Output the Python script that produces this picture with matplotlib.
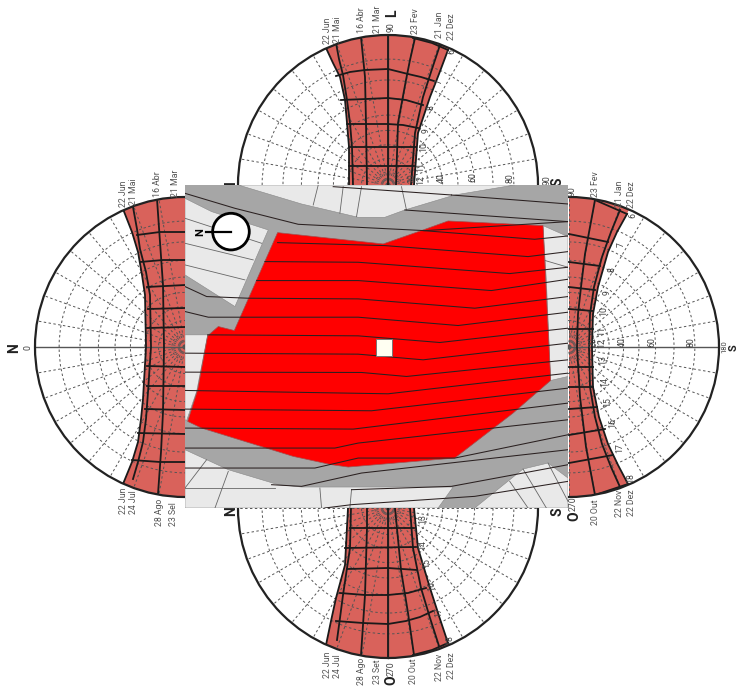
import numpy as np
import matplotlib
matplotlib.use('Agg')
import matplotlib.pyplot as plt
from matplotlib.patches import Circle, Polygon, Rectangle

plt.rcParams['font.family'] = ['Roboto', 'DejaVu Sans']

# sun chart curves, (lateral offset, height above the base)
top_dates = [
  [(-62, 137), (-55, 122), (-48, 108), (-43, 85), (-41, 62), (-39, 38), (-39, 0)],
  [(-52, 142), (-49, 126), (-45, 110), (-41, 85), (-38, 62), (-36, 38), (-35, 0)],
  [(-27, 148), (-25, 128), (-23, 108), (-22, 62), (-21, 0)],
  [(0, 150), (0, 0)],
  [(27, 147), (22, 125), (18, 105), (10, 62), (8, 0)],
  [(52, 140), (43, 113), (35, 88), (27, 52), (23, 0)],
  [(60, 135), (51, 111), (42, 88), (30, 52), (26, 0)],
]
top_hours = [
  [(-39, 19), (26, 19)],
  [(-39, 38), (28, 38)],
  [(-41, 61), (-20, 61), (0, 61), (15, 60), (30, 57)],
  [(-47, 85), (-22, 86), (0, 87), (18, 85), (35, 80)],
  [(-52, 109), (-38, 113), (-23, 115), (0, 116), (20, 111), (33, 108), (46, 104)],
  [(25, 147), (44, 142), (60, 135)],
]
bottom_dates = [
  [(-62, 137), (-57, 113), (-52, 90), (-43, 57), (-40, 0)],
  [(-51, 132), (-48, 110), (-45, 87), (-38, 40), (-37, 0)],
  [(-27, 147), (-25, 117), (-23, 87), (-21, 20), (-21, 0)],
  [(0, 150), (0, 0)],
  [(26, 147), (20, 105), (13, 62), (7, 0)],
  [(51, 138), (42, 110), (33, 80), (25, 40), (22, 0)],
  [(60, 135), (51, 108), (42, 80), (30, 40), (26, 0)],
]
bottom_hours = [
  [(-38, 20), (26, 20)],
  [(-43, 40), (28, 39)],
  [(-41, 61), (0, 60), (29, 62)],
  [(-48, 85), (-23, 87), (0, 87), (20, 85), (38, 80)],
  [(-52, 113), (-25, 115), (0, 116), (18, 113), (32, 109), (45, 103)],
  [(25, 147), (44, 142), (60, 135)],
]
left_dates = [
  [(-138, 62), (-115, 53), (-95, 47), (-72, 43), (-52, 40), (0, 39), (52, 42), (72, 44), (95, 47), (115, 53), (137, 62)],
  [(-140, 52), (-118, 48), (-98, 45), (-75, 39), (-52, 35), (0, 34), (45, 37), (72, 39), (95, 42), (115, 47), (132, 52)],
  [(-148, 28), (-105, 25), (-62, 22), (0, 21), (65, 22), (105, 24), (147, 27)],
]
left_hours = [
  [(-112, 48), (-115, 25), (-115, 0)],
  [(-85, 45), (-87, 22), (-87, 0)],
  [(-60, 38), (-62, 0)],
  [(-38, 37), (-39, 0)],
  [(-19, 38), (-20, 0)],
  [(19, 38), (20, 0)],
  [(39, 38), (39, 0)],
  [(62, 40), (63, 0)],
  [(86, 47), (87, 0)],
  [(113, 53), (115, 25), (115, 0)],
]
right_dates = [
  [(-133, 58), (-115, 48), (-95, 39), (-60, 29), (-33, 24), (0, 23), (40, 24), (70, 30), (97, 39), (118, 49), (137, 59)],
  [(-137, 51), (-115, 42), (-90, 33), (-60, 25), (-33, 21), (0, 20), (40, 21), (70, 26), (97, 33), (120, 42), (140, 51)],
  [(-147, 26), (-120, 21), (-93, 16), (-60, 12), (-33, 9), (0, 8), (50, 11), (100, 17), (148, 26)],
]
right_hours = [
  [(-113, 0), (-105, 39)],
  [(-85, 0), (-81, 31)],
  [(-60, 0), (-57, 26)],
  [(-38, 0), (-36, 24)],
  [(-18, 0), (-18, 24)],
  [(20, 0), (20, 24)],
  [(40, 0), (40, 24)],
  [(62, 0), (60, 28)],
  [(88, 0), (82, 36)],
  [(116, 0), (108, 44)],
  [(-147, 26), (-133, 58)],
  [(148, 26), (137, 59)],
]
grid_altitudes = [10, 20, 30, 40, 50, 60, 70, 80]
grid_azimuths = list(range(0, 360, 10))

# labels: text, x, y in picture pixels
date_labels_above = [
  ('22 Jun', 327, 44), ('21 Mai', 337, 43), ('16 Abr', 362, 33), ('21 Mar', 378, 33),
  ('23 Fev', 416, 34), ('21 Jan', 440, 38), ('22 Dez', 451, 40),
  ('22 Jun', 124, 207), ('21 Mai', 134, 205), ('16 Abr', 158, 197), ('21 Mar', 175, 197),
  ('23 Fev', 595, 197), ('21 Jan', 620, 207), ('22 Dez', 631, 208),
]
date_labels_below = [
  ('22 Jun', 327, 652), ('24 Jul', 337, 654), ('28 Ago', 362, 658), ('23 Set', 378, 659),
  ('20 Out', 413, 658), ('22 Nov', 439, 654), ('22 Dez', 451, 652),
  ('22 Jun', 124, 487), ('24 Jul', 134, 490), ('28 Ago', 159, 499), ('23 Sel', 174, 502),
  ('20 Out', 595, 499), ('22 Nov', 620, 490), ('22 Dez', 631, 489),
]
number_labels = [
  ('6', 452, 51), ('7', 439, 82), ('8', 431, 108), ('9', 426, 131), ('10', 424, 147),
  ('11', 421, 167), ('12', 421, 180), ('20', 412, 178), ('40', 441, 178), ('60', 473, 177),
  ('80', 510, 178), ('90', 547, 180), ('13', 423, 519), ('14', 423, 545), ('15', 427, 563),
  ('16', 432, 586), ('17', 439, 612), ('18', 450, 640),
  ('6', 633, 215), ('7', 621, 245), ('8', 612, 270), ('9', 607, 293), ('10', 604, 311),
  ('11', 602, 331), ('12', 602, 343), ('13', 603, 360), ('14', 605, 382), ('15', 608, 402),
  ('16', 613, 423), ('17', 620, 448), ('18', 631, 478), ('20', 593, 342), ('40', 622, 342),
  ('60', 652, 342), ('80', 691, 342), ('0', 28, 348),
  ('90', 391, 27), ('270', 391, 669), ('90', 572, 191), ('270', 573, 504),
]
cardinal_labels = [
  ('L', 392, 13), ('O', 391, 680), ('N', 14, 348),
  ('S', 558, 182), ('N', 231, 186), ('N', 231, 511), ('S', 558, 512), ('O', 574, 516),
]

# site map, in map units
map_xlim = (0, 1150)
map_ylim = (985, 15)
light_areas = [
  [(160, 15), (350, 72), (520, 112), (600, 112), (660, 90), (810, 45), (990, 15)],
  [(0, 55), (80, 95), (250, 150), (150, 380), (0, 285)],
  [(0, 465), (68, 465), (35, 635), (5, 722), (0, 720)],
  [(1075, 137), (1150, 170), (1150, 590), (1098, 602), (1085, 300)],
  [(0, 810), (65, 840), (130, 870), (280, 915), (350, 922), (805, 922), (760, 985), (0, 985)],
  [(870, 985), (1015, 868), (1090, 850), (1150, 895), (1150, 985)],
]
red_area = [(278, 158), (595, 192), (715, 150), (790, 123), (1075, 137), (1098, 602), (985, 700),
            (810, 835), (490, 862), (440, 855), (325, 830), (50, 745), (8, 725), (38, 630),
            (68, 468), (100, 440), (148, 452)]
contours = [
  [(0, 40), (150, 85), (340, 133), (720, 152), (1150, 125)],
  [(660, 90), (1150, 125)],
  [(800, 45), (1150, 72)],
  [(445, 20), (800, 45)],
  [(715, 152), (1050, 178), (1150, 168)],
  [(278, 188), (600, 197), (1030, 230), (1150, 215)],
  [(240, 245), (520, 247), (975, 281), (1150, 262)],
  [(215, 302), (520, 302), (920, 332), (1150, 298)],
  [(0, 320), (65, 350), (190, 355), (520, 357), (870, 385), (1150, 350)],
  [(0, 395), (70, 412), (520, 412), (820, 437), (1150, 397)],
  [(68, 465), (520, 468), (765, 488), (1150, 445)],
  [(0, 520), (520, 523), (715, 540), (1150, 490)],
  [(0, 577), (530, 578), (665, 590), (1150, 540)],
  [(0, 632), (610, 642), (1150, 580)],
  [(0, 688), (560, 693), (1150, 625)],
  [(0, 745), (505, 748), (1150, 670)],
  [(0, 805), (450, 805), (520, 790), (1150, 720)],
  [(0, 865), (390, 865), (520, 835), (810, 835), (1150, 765)],
  [(260, 915), (350, 920), (530, 880), (1150, 810)],
  [(500, 930), (800, 920), (1150, 855)],
  [(420, 985), (500, 975), (870, 950), (1150, 905)],
]
cross_lines = [
  [(400, 15), (385, 75)], [(475, 20), (465, 100)], [(530, 20), (515, 110)], [(650, 20), (665, 90)],
  [(0, 115), (230, 190)], [(0, 190), (205, 240)], [(0, 255), (180, 300)],
  [(65, 840), (0, 925)], [(130, 875), (90, 985)], [(405, 925), (410, 985)], [(500, 930), (495, 985)],
  [(0, 925), (270, 925)], [(1075, 240), (1150, 262)], [(1015, 868), (1085, 985)],
  [(975, 905), (1030, 985)], [(1090, 850), (1150, 965)],
]

RADIUS = 150
BAND = '#d9625b'
GRID = '#555555'


def place(chart, a, h):
  cx, cy, side = chart
  a, h = np.asarray(a, float), np.asarray(h, float)
  if side == 'top':
    return cx + a, cy - h
  if side == 'bottom':
    return cx + a, cy + h
  if side == 'left':
    return cx - h, cy + a
  return cx + h, cy + a


def overshoot(point):
  return (point[0] * 1.12, point[1] * 1.12)


def band_outline(dates, side):
  if side in ('top', 'bottom'):
    first, last = dates[0], dates[-1]
    return [overshoot(first[0])] + first + last[::-1] + [overshoot(last[0])]
  outer = dates[0]
  return [(-170, 0), overshoot(outer[0])] + outer + [overshoot(outer[-1]), (170, 0)]


def draw_chart(ax, chart, dates, hours):
  cx, cy, side = chart
  disc = Circle((cx, cy), RADIUS, facecolor='white', edgecolor='none', zorder=1)
  ax.add_patch(disc)

  outline = np.array(band_outline(dates, side))
  x, y = place(chart, outline[:, 0], outline[:, 1])
  band = Polygon(np.column_stack([x, y]), facecolor=BAND, edgecolor='none', zorder=2)
  ax.add_patch(band)
  band.set_clip_path(disc)

  # stereographic altitude and azimuth grid
  for alt in grid_altitudes:
    r = RADIUS * np.tan(np.radians(90 - alt) / 2)
    ax.add_patch(Circle((cx, cy), r, fill=False, edgecolor=GRID, lw=0.7,
                        linestyle=(0, (2.5, 2.5)), zorder=3))
  for az in grid_azimuths:
    ax.plot([cx, cx + RADIUS * np.cos(np.radians(az))], [cy, cy + RADIUS * np.sin(np.radians(az))],
            color=GRID, lw=0.7, linestyle=(0, (2.5, 2.5)), zorder=3)

  x, y = place(chart, [0, 0], [0, RADIUS])
  ax.plot(x, y, color='#555555', lw=1, zorder=3)

  for curve in dates + hours:
    pts = np.array(curve)
    x, y = place(chart, pts[:, 0], pts[:, 1])
    line, = ax.plot(x, y, color='#1a1a1a', lw=1.3, zorder=4)
    line.set_clip_path(disc)

  ax.add_patch(Circle((cx, cy), RADIUS, fill=False, edgecolor='#222222', lw=1.6, zorder=5))


def main():
  fig = plt.figure(figsize=(7.39, 6.87), dpi=100)
  ax = fig.add_axes([0, 0, 1, 1])
  ax.set_xlim(0, 739)
  ax.set_ylim(687, 0)
  ax.axis('off')

  draw_chart(ax, (388, 185, 'top'), top_dates, top_hours)
  draw_chart(ax, (388, 508, 'bottom'), bottom_dates, bottom_hours)
  draw_chart(ax, (185, 347, 'left'), left_dates, left_hours)
  draw_chart(ax, (569, 347, 'right'), right_dates, right_hours)

  for text, x, y in date_labels_above:
    ax.text(x, y, text, rotation=90, ha='center', va='bottom', fontsize=6.3, color='#555555', zorder=6)
  for text, x, y in date_labels_below:
    ax.text(x, y, text, rotation=90, ha='center', va='top', fontsize=6.3, color='#555555', zorder=6)
  for text, x, y in number_labels:
    ax.text(x, y, text, rotation=90, ha='center', va='center', fontsize=6.3, color='#444444', zorder=6)
  for text, x, y in cardinal_labels:
    ax.text(x, y, text, rotation=90, ha='center', va='center', fontsize=10, fontweight='bold',
            color='#222222', zorder=6)
  # squeezed against the right edge, smaller so the two do not collide
  ax.text(724.5, 347, '180', rotation=90, ha='center', va='center', fontsize=5.5, color='#444444', zorder=6)
  ax.text(734, 348, 'S', rotation=90, ha='center', va='center', fontsize=8, fontweight='bold',
          color='#222222', zorder=6)

  # the map sits on top of the chart bases
  site = fig.add_axes([185 / 739, 1 - 508 / 687, 383 / 739, 323 / 687], zorder=10)
  site.set_xlim(*map_xlim)
  site.set_ylim(*map_ylim)
  site.axis('off')
  site.add_patch(Rectangle((map_xlim[0], map_ylim[1]), map_xlim[1], map_ylim[0] - map_ylim[1],
                           facecolor='#a6a6a6', edgecolor='none'))
  for area in light_areas:
    site.add_patch(Polygon(area, facecolor='#e9e9e9', edgecolor='#888888', lw=0.4))
  site.add_patch(Polygon(red_area, facecolor='#ff0000', edgecolor='#a05050', lw=0.5, zorder=2))
  for line in cross_lines:
    pts = np.array(line)
    site.plot(pts[:, 0], pts[:, 1], color='#666666', lw=0.6, zorder=1.5)
  for line in contours:
    pts = np.array(line)
    site.plot(pts[:, 0], pts[:, 1], color='#2a2020', lw=0.75, zorder=3)

  site.add_patch(Rectangle((572, 478), 50, 50, facecolor='#fffff2', edgecolor='#777777', lw=0.7, zorder=4))
  site.add_patch(Circle((138, 155), 55, facecolor='white', edgecolor='black', lw=2, zorder=4))
  site.plot([62, 138], [155, 155], color='black', lw=1.6, zorder=5)
  site.text(45, 155, 'N', rotation=90, ha='center', va='center', fontsize=8, fontweight='bold', zorder=5)

  fig.savefig('out.png', dpi=100)


if __name__ == '__main__':
  main()
